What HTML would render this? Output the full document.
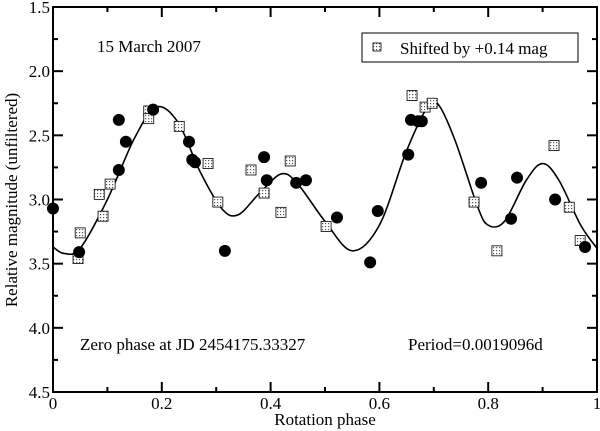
<!DOCTYPE html>
<html><head><meta charset="utf-8"><style>
body{margin:0;background:#fff}
svg{display:block;font-family:"Liberation Serif",serif}
</style></head><body>
<svg id="chart" width="600" height="431" viewBox="0 0 600 431">
<defs>
<pattern id="dots" width="3" height="3" patternUnits="userSpaceOnUse"><rect width="3" height="3" fill="#fff"/><rect x="1" y="1" width="1.2" height="1.2" fill="#555"/></pattern>
</defs>
<g id="axes"></g>
<g id="marks"></g>
<text x="97" y="52" font-size="17">15 March 2007</text>
<text x="80" y="350" font-size="17">Zero phase at JD 2454175.33327</text>
<text x="408" y="350" font-size="17">Period=0.0019096d</text>
<g>
<rect x="362" y="33" width="216" height="29" fill="#fff" stroke="#000" stroke-width="1"/>
<rect x="373" y="43" width="8" height="8" fill="url(#dots)" stroke="#000" stroke-width="0.8"/>
<text x="400" y="54" font-size="17">Shifted by +0.14 mag</text>
</g>
<text x="325" y="425" font-size="17" text-anchor="middle">Rotation phase</text>
<text transform="translate(17,200) rotate(-90)" font-size="17" text-anchor="middle">Relative magnitude (unfiltered)</text>
</svg>
<script>
const circX=[0.000,0.048,0.121,0.121,0.134,0.184,0.250,0.256,0.261,0.316,0.388,0.393,0.447,0.465,0.522,0.583,0.597,0.653,0.658,0.671,0.678,0.787,0.842,0.853,0.923,0.978];
const circY=[3.07,3.41,2.38,2.77,2.55,2.30,2.55,2.69,2.71,3.40,2.67,2.85,2.87,2.85,3.14,3.49,3.09,2.65,2.38,2.39,2.39,2.87,3.15,2.83,3.00,3.37];
const sqX=[0.046,0.050,0.085,0.105,0.092,0.176,0.176,0.232,0.285,0.303,0.364,0.388,0.419,0.436,0.502,0.660,0.684,0.697,0.774,0.816,0.921,0.949,0.969];
const sqY=[3.46,3.26,2.96,2.88,3.13,2.31,2.37,2.43,2.72,3.02,2.77,2.95,3.10,2.70,3.21,2.19,2.28,2.25,3.02,3.40,2.58,3.06,3.32];
const fitX=[0,0.02,0.05,0.1,0.15,0.19,0.23,0.27,0.31,0.34,0.38,0.42,0.45,0.5,0.55,0.6,0.65,0.69,0.71,0.74,0.78,0.8,0.83,0.87,0.9,0.93,0.97,1.0];
const fitY=[3.37,3.42,3.38,3.0,2.52,2.28,2.4,2.78,3.07,3.12,2.95,2.80,2.88,3.17,3.40,3.2,2.62,2.27,2.27,2.55,3.05,3.2,3.17,2.85,2.72,2.85,3.2,3.38];
const xTicks=[0,0.2,0.4,0.6,0.8,1];
const xTickLabels=["0","0.2","0.4","0.6","0.8","1"];
const yTicks=[1.5,2.0,2.5,3.0,3.5,4.0,4.5];
const yTickLabels=["1.5","2.0","2.5","3.0","3.5","4.0","4.5"];
const L=53,R=597,T=7,B=392;
const X=v=>L+v*(R-L);
const Y=v=>T+(v-1.5)/3*(B-T);
const NS="http://www.w3.org/2000/svg";
const ax=document.getElementById('axes'),mk=document.getElementById('marks');
function el(t,a,p){const e=document.createElementNS(NS,t);for(const k in a)e.setAttribute(k,a[k]);p.appendChild(e);return e;}
const frame=el('rect',{x:L,y:T,width:R-L,height:B-T,fill:'none',stroke:'#000','stroke-width':2},ax);


for(let i=0;i<=10;i++){const v=i/10,x=X(v),len=i%2?5:10;
 el('line',{x1:x,y1:B,x2:x,y2:B-len,stroke:'#000','stroke-width':2},ax);
 el('line',{x1:x,y1:T,x2:x,y2:T+len,stroke:'#000','stroke-width':2},ax);}
xTicks.forEach((v,i)=>{const t=el('text',{x:X(v),y:B+17,'font-size':17,'text-anchor':'middle'},ax);t.textContent=xTickLabels[i];
 
 });
for(let i=0;i<=12;i++){const v=1.5+i*0.25,y=Y(v),len=i%2?5:10;
 el('line',{x1:L,y1:y,x2:L+len,y2:y,stroke:'#000','stroke-width':2},ax);
 el('line',{x1:R,y1:y,x2:R-len,y2:y,stroke:'#000','stroke-width':2},ax);}
yTicks.forEach((v,i)=>{const t=el('text',{x:L-3,y:Y(v)+6,'font-size':17,'text-anchor':'end'},ax);t.textContent=yTickLabels[i];
 
 });
const P=fitX.map((v,i)=>[X(v),Y(fitY[i])]);
let d='M'+P[0][0]+','+P[0][1];
for(let i=0;i<P.length-1;i++){const p0=P[Math.max(0,i-1)],p1=P[i],p2=P[i+1],p3=P[Math.min(P.length-1,i+2)];
 d+=` C${p1[0]+(p2[0]-p0[0])/6},${p1[1]+(p2[1]-p0[1])/6} ${p2[0]-(p3[0]-p1[0])/6},${p2[1]-(p3[1]-p1[1])/6} ${p2[0]},${p2[1]}`;}
const cv=el('path',{d:d,fill:'none',stroke:'#000','stroke-width':1.6},mk);


sqX.forEach((v,i)=>{const r=el('rect',{x:X(v)-5,y:Y(sqY[i])-5,width:10,height:10,fill:'url(#dots)',stroke:'#000','stroke-width':0.8},mk);
 
 });
circX.forEach((v,i)=>{const c=el('circle',{cx:X(v),cy:Y(circY[i]),r:6,fill:'#000'},mk);
 
 });
</script>
</body></html>
